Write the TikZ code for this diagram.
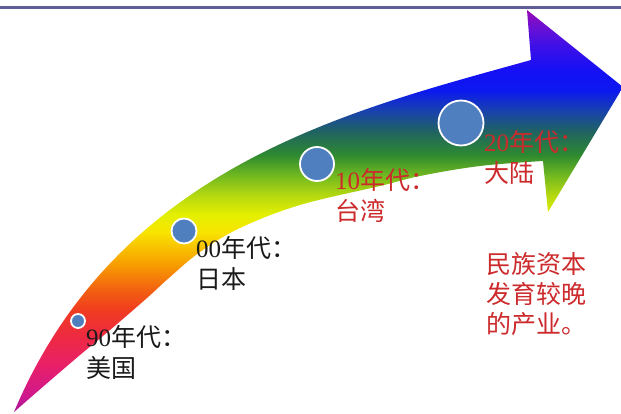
\documentclass[tikz,border=0pt]{standalone}
\usepackage{fontspec}
\setmainfont{Liberation Serif}
\newfontfamily\cjk{Noto Sans CJK SC}
\definecolor{r0}{HTML}{A8189C}
\definecolor{r1}{HTML}{D0188C}
\definecolor{r2}{HTML}{E82068}
\definecolor{r3}{HTML}{EE2A40}
\definecolor{r4}{HTML}{F03C20}
\definecolor{r5}{HTML}{F26010}
\definecolor{r6}{HTML}{F8A000}
\definecolor{r7}{HTML}{F8E400}
\definecolor{r8}{HTML}{E4F000}
\definecolor{r9}{HTML}{B4D810}
\definecolor{r10}{HTML}{70B820}
\definecolor{r11}{HTML}{2E8A30}
\definecolor{r12}{HTML}{206460}
\definecolor{r13}{HTML}{1840B0}
\definecolor{r14}{HTML}{0C18F0}
\definecolor{r15}{HTML}{1510F5}
\definecolor{r16}{HTML}{4010E8}
\definecolor{r17}{HTML}{7010D0}
\definecolor{r18}{HTML}{9A08B8}
\definecolor{dotblue}{HTML}{4F7FBF}
\definecolor{rulecol}{HTML}{5E5E94}
\definecolor{labelred}{HTML}{CC2A2C}
\definecolor{labelblack}{HTML}{1A1A1A}
\pgfdeclareverticalshading{rainbowarrow}{100bp}{color(0bp)=(r0); color(25bp)=(r0); color(27.11bp)=(r1); color(30.85bp)=(r2); color(34.58bp)=(r3); color(37.69bp)=(r4); color(40.17bp)=(r5); color(43.53bp)=(r6); color(47.39bp)=(r7); color(49.5bp)=(r8); color(51.99bp)=(r9); color(54.48bp)=(r10); color(56.97bp)=(r11); color(59.83bp)=(r12); color(62.56bp)=(r13); color(65.05bp)=(r14); color(67.54bp)=(r15); color(70.65bp)=(r16); color(73.14bp)=(r17); color(75bp)=(r18); color(100bp)=(r18)}
\tikzset{
  lbl/.style={anchor=base west, inner sep=0pt, font=\fontsize{25}{31}\selectfont},
  blk/.style={lbl, text=labelblack},
  redl/.style={lbl, text=labelred},
  dot/.style={circle, fill=dotblue, draw=white, line width=1.8pt, inner sep=0pt},
}
\begin{document}
\begin{tikzpicture}[x=1pt,y=-1pt]
\useasboundingbox (0,0) rectangle (621,414);
\clip (0,0) rectangle (621,414);
\fill[white] (0,0) rectangle (621,414);
% top rule
\draw[rulecol, line width=2.5pt] (0,7.5) -- (621,7.5);
% rainbow arrow
\shade[shading=rainbowarrow]
  (14,412) .. controls (118,165) and (352,110) .. (531,60)
  -- (527,10) -- (623,87) -- (548,212) -- (543,161)
  -- plot[smooth, tension=0.6] coordinates {(543,161) (480,166) (420,176) (380,186) (300,205) (240,228) (200,252) (170,277) (147,298) (110,330) (80,355) (45,385) (14,412)}
  -- cycle;
% dots
\node[dot, minimum size=14pt] (c1) at (78,321) {};
\node[dot, minimum size=25pt] (c2) at (184,231) {};
\node[dot, minimum size=34pt] (c3) at (317,164) {};
\node[dot, minimum size=45pt] (c4) at (461,123) {};
% labels
\node[blk] (l1a) at (86,346) {90{\cjk 年代：}};
\node[blk] (l1b) at (86,377) {\cjk 美国};
\node[blk] (l2a) at (196,258) {00{\cjk 年代：}};
\node[blk] (l2b) at (196,288) {\cjk 日本};
\node[redl] (l3a) at (335,190) {10{\cjk 年代：}};
\node[redl] (l3b) at (335,221) {\cjk 台湾};
\node[redl] (l4a) at (484,152) {20{\cjk 年代：}};
\node[redl] (l4b) at (484,183) {\cjk 大陆};
\node[redl] (n1) at (486,273) {\cjk 民族资本};
\node[redl] (n2) at (486,303) {\cjk 发育较晚};
\node[redl] (n3) at (486,333) {\cjk 的产业。};
\end{tikzpicture}
\end{document}
